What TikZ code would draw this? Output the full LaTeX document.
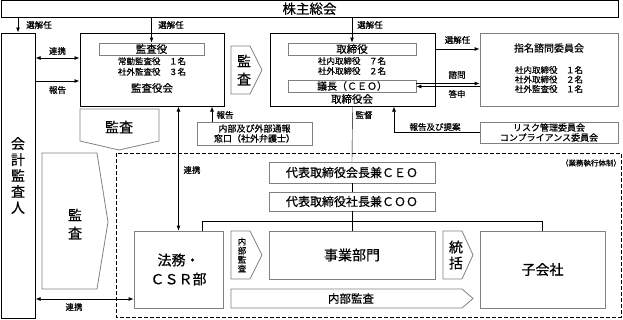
\documentclass[tikz,border=0pt]{standalone}
\usepackage{fontspec}
\setmainfont{Noto Sans CJK JP}[FakeBold=0.5]
\usetikzlibrary{arrows.meta}
\definecolor{boxgray}{gray}{0.5}

\begin{document}
\begin{tikzpicture}[x=1pt, y=-1pt,
  blackbox/.style={draw=black, line width=1pt, inner sep=0pt},
  graybox/.style={draw=boxgray, line width=0.8pt, inner sep=0pt},
  grayshape/.style={draw=boxgray, line width=0.8pt},
  lbl/.style={inner sep=0pt, font=\fontsize{8.5}{9}\selectfont},
  arr/.style={line width=0.8pt, -{Latex[length=5pt,width=4pt]}},
  darr/.style={line width=0.8pt, {Latex[length=5pt,width=4pt]}-{Latex[length=5pt,width=4pt]}}]
\useasboundingbox (0,0) rectangle (623,319);
\node[blackbox, minimum width=617pt, minimum height=16.5pt, font=\fontsize{13.5}{14}\selectfont] (soukai) at (309.5,8.75) {株主総会};
\node[blackbox, minimum width=34pt, minimum height=285pt, align=center, font=\fontsize{14}{16}\selectfont] (kaikei) at (18,175.5) {会\\計\\監\\査\\人};
\node[blackbox, minimum width=144pt, minimum height=73pt] (kansakai) at (152,69.5) {};
\node[graybox, minimum width=105pt, minimum height=12pt, font=\fontsize{10.5}{11}\selectfont] (kansayaku) at (151.5,49) {監査役};
\node[lbl, align=center, font=\fontsize{8.5}{10.5}\selectfont] (kansamembers) at (152,66.5) {常勤監査役　１名\\社外監査役　３名};
\node[inner sep=0pt, font=\fontsize{10.5}{11}\selectfont] (kansakaititle) at (152,88) {監査役会};
\node[blackbox, minimum width=165pt, minimum height=73pt] (torikai) at (352.5,69.5) {};
\node[graybox, minimum width=128pt, minimum height=12pt, font=\fontsize{10.5}{11}\selectfont] (torishimari) at (352,49) {取締役};
\node[lbl, align=center, font=\fontsize{8.5}{10}\selectfont] (torimembers) at (352,66) {社内取締役　７名\\社外取締役　２名};
\node[graybox, minimum width=128pt, minimum height=12pt, font=\fontsize{10}{11}\selectfont] (gichou) at (352,86) {議長（ＣＥＯ）};
\node[inner sep=0pt, font=\fontsize{10.5}{11}\selectfont] (torikaititle) at (352,99) {取締役会};
\node[graybox, minimum width=138pt, minimum height=73pt] (shimei) at (549,69.5) {};
\node[inner sep=0pt, font=\fontsize{10}{11}\selectfont] (shimeititle) at (549,48) {指名諮問委員会};
\node[lbl, align=center, font=\fontsize{8.5}{9.5}\selectfont] (shimeimembers) at (549,79.5) {社内取締役　１名\\社外取締役　２名\\社外監査役　１名};
\node[graybox, minimum width=115pt, minimum height=23pt, align=center, font=\fontsize{9}{10}\selectfont] (tsuho) at (254.5,133.5) {内部及び外部通報\\窓口（社外弁護士）};
\node[graybox, minimum width=138pt, minimum height=21pt, align=center, font=\fontsize{9}{10}\selectfont] (risk) at (549,132.5) {リスク管理委員会\\コンプライアンス委員会};
\draw[line width=1pt, dash pattern=on 4pt off 2pt] (116,153) rectangle (621,317);
\node[inner sep=0pt, font=\fontsize{7.5}{8}\selectfont] (taisei) at (591,163) {（業務執行体制）};
\node[graybox, minimum width=166pt, minimum height=21pt, font=\fontsize{12}{13}\selectfont] (ceo) at (352,172.5) {代表取締役会長兼ＣＥＯ};
\node[graybox, minimum width=166pt, minimum height=19pt, font=\fontsize{12}{13}\selectfont] (coo) at (352,201.5) {代表取締役社長兼ＣＯＯ};
\node[graybox, minimum width=89pt, minimum height=77pt, align=center, font=\fontsize{14}{19}\selectfont] (houmu) at (178.5,269.5) {法務・\\ＣＳＲ部};
\node[graybox, minimum width=166pt, minimum height=48pt, font=\fontsize{14}{15}\selectfont] (jigyou) at (352,255) {事業部門};
\node[graybox, minimum width=125pt, minimum height=77pt, font=\fontsize{14}{15}\selectfont] (kogaisha) at (542.5,269.5) {子会社};
\draw[grayshape] (231,46) -- (250,46) -- (262,70) -- (250,94) -- (231,94) -- cycle;
\node[inner sep=0pt, align=center, font=\fontsize{14}{18}\selectfont] (kansaright) at (244,70) {監\\査};
\draw[grayshape] (80,109) -- (159,109) -- (159,141) -- (119,150) -- (80,141) -- cycle;
\node[inner sep=0pt, font=\fontsize{14}{15}\selectfont] (kansadown) at (119,127) {監査};
\draw[grayshape] (42,153) -- (97,153) -- (108,222) -- (97,289) -- (42,289) -- cycle;
\node[inner sep=0pt, align=center, font=\fontsize{14}{18}\selectfont] (kansabig) at (75,224) {監\\査};
\draw[grayshape] (231,231) -- (250,231) -- (262,255) -- (250,279) -- (231,279) -- cycle;
\node[inner sep=0pt, align=center, font=\fontsize{8.5}{9}\selectfont] (naibusmall) at (242,255) {内\\部\\監\\査};
\draw[grayshape] (443,231) -- (462,231) -- (473,255) -- (462,279) -- (443,279) -- cycle;
\node[inner sep=0pt, align=center, font=\fontsize{14}{16}\selectfont] (toukatsu) at (456,255) {統\\括};
\draw[grayshape] (231,289) -- (462,289) -- (473,298.5) -- (462,308) -- (231,308) -- cycle;
\node[inner sep=0pt, font=\fontsize{11.5}{12}\selectfont] (naibulong) at (351,298.5) {内部監査};
\draw[arr] (kaikei.north |- soukai.south) -- (kaikei.north);
\node[lbl] (sennin1) at (39,25) {選解任};
\draw[arr] (kansayaku.north |- soukai.south) -- (kansayaku.north);
\node[lbl] (sennin2) at (171,25) {選解任};
\draw[arr] (torishimari.north |- soukai.south) -- (torishimari.north);
\node[lbl] (sennin3) at (370,25) {選解任};
\draw[darr] (kaikei.east |- 0,58) -- (kansakai.west |- 0,58);
\node[lbl] (renkei1) at (57.5,51) {連携};
\draw[arr] (kaikei.east |- 0,81) -- (kansakai.west |- 0,81);
\node[lbl] (houkoku1) at (57.5,90) {報告};
\draw[arr] (torikai.east |- 0,49) -- (shimei.west |- 0,49);
\node[lbl] (sennin4) at (457.5,40) {選解任};
\draw[arr] (gichou.east |- 0,83.5) -- (shimei.west |- 0,83.5);
\node[lbl] (shimon) at (457,75) {諮問};
\draw[arr] (shimei.west |- 0,86.5) -- (gichou.east |- 0,86.5);
\node[lbl] (toushin) at (457,94) {答申};
\draw[darr] (houmu.north |- kansakai.south) -- (houmu.north);
\node[lbl] (renkei2) at (192,170) {連携};
\draw[arr] (212,0 |- tsuho.north) -- (212,0 |- kansakai.south);
\node[lbl] (houkoku2) at (225,115) {報告};
\draw (torikai.south) -- (ceo.north);
\node[lbl] (kantoku) at (364,115) {監督};
\draw[arr] (risk.west) -| (394,0 |- torikai.south);
\node[lbl] (teian) at (435,127) {報告及び提案};
\draw (ceo.south) -- (coo.north);
\draw (coo.south) -- (jigyou.north);
\draw (202,0 |- houmu.north) |- (kogaisha.north |- 0,221) -- (kogaisha.north);
\draw[darr] (kaikei.east |- 0,299) -- (houmu.west |- 0,299);
\node[lbl] (renkei3) at (74,307) {連携};
\end{tikzpicture}
\end{document}
